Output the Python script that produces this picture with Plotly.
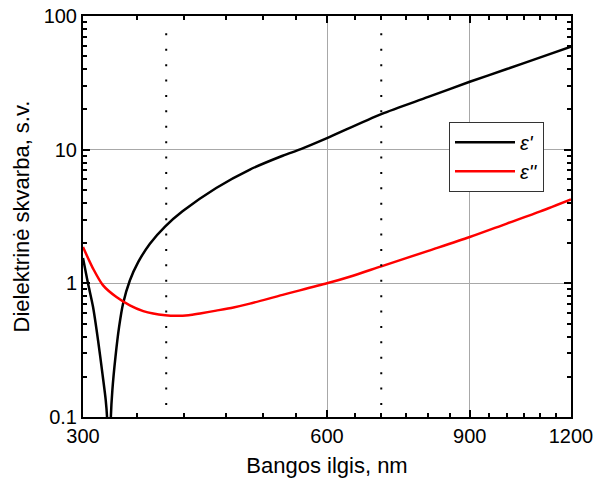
import plotly.graph_objects as go

# wavelength (nm) and |eps'| (black)
wl_re = [300, 304.3, 308.7, 313.1, 317.0, 320.0, 321.2, 322.9, 324.7, 326.1, 329.0, 332.4, 336.2,
         342.7, 350.9, 362.8, 379, 398, 438, 482, 529, 557, 600, 700, 800, 900, 1000, 1100, 1200]
eps_re = [1.55, 1.0, 0.665, 0.375, 0.212, 0.134, 0.1, 0.005, 0.1, 0.159, 0.282, 0.472, 0.706,
          1.05, 1.44, 1.98, 2.67, 3.46, 5.17, 7.1, 9.0, 10.1, 12.2, 18.45, 24.8, 32.2, 40.1, 49.0, 59.0]

# wavelength (nm) and eps'' (red)
wl_im = [300, 308.7, 317.6, 329.9, 342.7, 356.0, 366.2, 379, 390, 405, 420, 438, 460, 482, 529, 600, 640,
         700, 800, 900, 1000, 1100, 1200]
eps_im = [1.87, 1.29, 0.966, 0.79, 0.685, 0.62, 0.594, 0.577, 0.571, 0.577, 0.598, 0.625, 0.66, 0.705, 0.82,
          1.0, 1.12, 1.34, 1.75, 2.22, 2.8, 3.45, 4.24]

names = ["<i>ε'</i>", "<i>ε''</i>"]
colors = ["#000000", "#ff0000"]

x_ticks = [300, 600, 900, 1200]
x_minor = [350, 400, 450, 500, 550, 650, 700, 750, 800, 850, 950, 1000, 1050, 1100, 1150]
y_ticks = [0.1, 1, 10, 100]
y_ticktext = ["0.1", "1", "10", "100"]
y_minor = [m * d for d in (0.1, 1, 10) for m in range(2, 10)]
vlines = [380, 700]

FONT = "Liberation Sans, Arial, sans-serif"

fig = go.Figure()
fig.add_trace(go.Scatter(x=wl_re, y=eps_re, mode="lines", name=names[0],
                         line=dict(color=colors[0], width=2.5, shape="spline", smoothing=0.8)))
fig.add_trace(go.Scatter(x=wl_im, y=eps_im, mode="lines", name=names[1],
                         line=dict(color=colors[1], width=2.5, shape="spline", smoothing=0.8)))

for v in vlines:
    fig.add_shape(type="line", xref="x", yref="paper", x0=v, x1=v, y0=0.03, y1=0.96,
                  line=dict(color="black", width=2, dash="2px,13.4px"), layer="above")

axis_common = dict(
    type="log", showline=True, linecolor="black", linewidth=2, mirror="allticks",
    ticks="inside", ticklen=7, tickwidth=2, tickcolor="black",
    showgrid=True, gridcolor="#a8a8a8", gridwidth=1, zeroline=False, automargin=False,
    tickfont=dict(family=FONT, size=20, color="black"),
)

fig.update_xaxes(**axis_common, range=[2.4771212547, 3.0791812460],
                 tickmode="array", tickvals=x_ticks, ticktext=[str(t) for t in x_ticks],
                 minor=dict(tickmode="array", tickvals=x_minor, ticks="inside", ticklen=4,
                            tickwidth=2, tickcolor="black", showgrid=False),
                 title=dict(text="Bangos ilgis, nm", font=dict(family=FONT, size=22, color="black"),
                            standoff=12))
fig.update_yaxes(**axis_common, range=[-1, 2],
                 tickmode="array", tickvals=y_ticks, ticktext=y_ticktext,
                 minor=dict(tickmode="array", tickvals=y_minor, ticks="inside", ticklen=4,
                            tickwidth=2, tickcolor="black", showgrid=False),
                 title=dict(text="Dielektrinė skvarba, s.v.", font=dict(family=FONT, size=22, color="black"),
                            standoff=8))

fig.update_layout(
    width=595, height=485,
    margin=dict(l=83, r=24, t=16, b=68),
    paper_bgcolor="white", plot_bgcolor="white",
    showlegend=True,
    legend=dict(x=0.75, y=0.736, xanchor="left", yanchor="top",
                bgcolor="white", bordercolor="#333333", borderwidth=1,
                font=dict(family=FONT, size=20, color="black"), itemwidth=60),
)

fig.write_html("out.html")
